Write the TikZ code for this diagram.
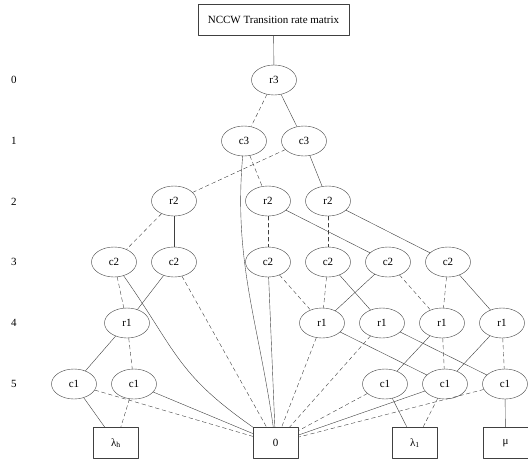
\documentclass[tikz,border=0pt]{standalone}
\usepackage{fontspec}
\setmainfont{Liberation Serif}
\usetikzlibrary{shapes.geometric}
\begin{document}
\begin{tikzpicture}[x=1pt,y=-1pt,font=\fontsize{11}{13}\selectfont, line join=round, line cap=round,
  var/.style={draw=black!75,ellipse,minimum width=45pt,minimum height=30pt,inner sep=0pt},
  term/.style={draw=black!75,rectangle,minimum width=45pt,minimum height=31pt},
  lo/.style={draw=black!75,dash pattern=on 4pt off 3pt},
  hi/.style={draw=black!75}]
\useasboundingbox (0,0) rectangle (528,463);
% level numbers
\foreach \l/\y in {0/80,1/141,2/202,3/262,4/323,5/384}
  \node at (14,\y) {\l};
\node[term,minimum width=151pt] (title) at (273.5,19.5) {NCCW Transition rate matrix};
\node[var] (r3) at (274,80) {r3};
\node[var] (c3a) at (244,141) {c3};
\node[var] (c3b) at (304,141) {c3};
\node[var] (r2a) at (174,201) {r2};
\node[var] (r2b) at (268,201) {r2};
\node[var] (r2c) at (328,201) {r2};
\foreach \n/\x in {c2a/114,c2b/174,c2c/268,c2d/328,c2e/388,c2f/448}
  \node[var] (\n) at (\x,262) {c2};
\foreach \n/\x in {r1a/127,r1b/322,r1c/382,r1d/442,r1e/502}
  \node[var] (\n) at (\x,323) {r1};
\foreach \n/\x in {c1a/74,c1b/134,c1c/385,c1d/445,c1e/505}
  \node[var] (\n) at (\x,384) {c1};
\node[term] (lh) at (116,443) {λ\textsubscript{h}};
\node[term] (zero) at (275.5,443) {0};
\node[term] (l1) at (415,443) {λ\textsubscript{1}};
\node[term] (mu) at (505.5,443) {μ};
% low (dashed) and high (solid) edges
\foreach \a/\b in {r3/c3a,c3a/r2b,c3b/r2a,r2a/c2a,r2b/c2c,r2c/c2d,c2a/r1a,c2b/zero,
  c2c/r1b,c2d/r1b,c2e/r1d,c2f/r1d,r1a/c1b,r1b/zero,r1c/zero,r1d/c1d,r1e/c1e,
  c1a/zero,c1b/lh,c1c/zero,c1d/l1,c1e/zero}
  \draw[lo] (\a) -- (\b);
\foreach \a/\b in {title/r3,r3/c3b,c3b/r2c,r2a/c2b,r2b/c2e,r2c/c2f,c2b/r1a,c2c/zero,
  c2d/r1c,c2e/r1b,c2f/r1e,r1a/c1a,r1b/c1d,r1c/c1e,r1d/c1c,r1e/c1d,c1a/lh,
  c1b/zero,c1c/l1,c1d/zero,c1e/mu}
  \draw[hi] (\a) -- (\b);
\draw[hi] (c3a) to[out=-95,in=98] (zero);
\draw[hi] (c2a) to[out=-55,in=145,looseness=1.2] (zero);
\end{tikzpicture}
\end{document}
